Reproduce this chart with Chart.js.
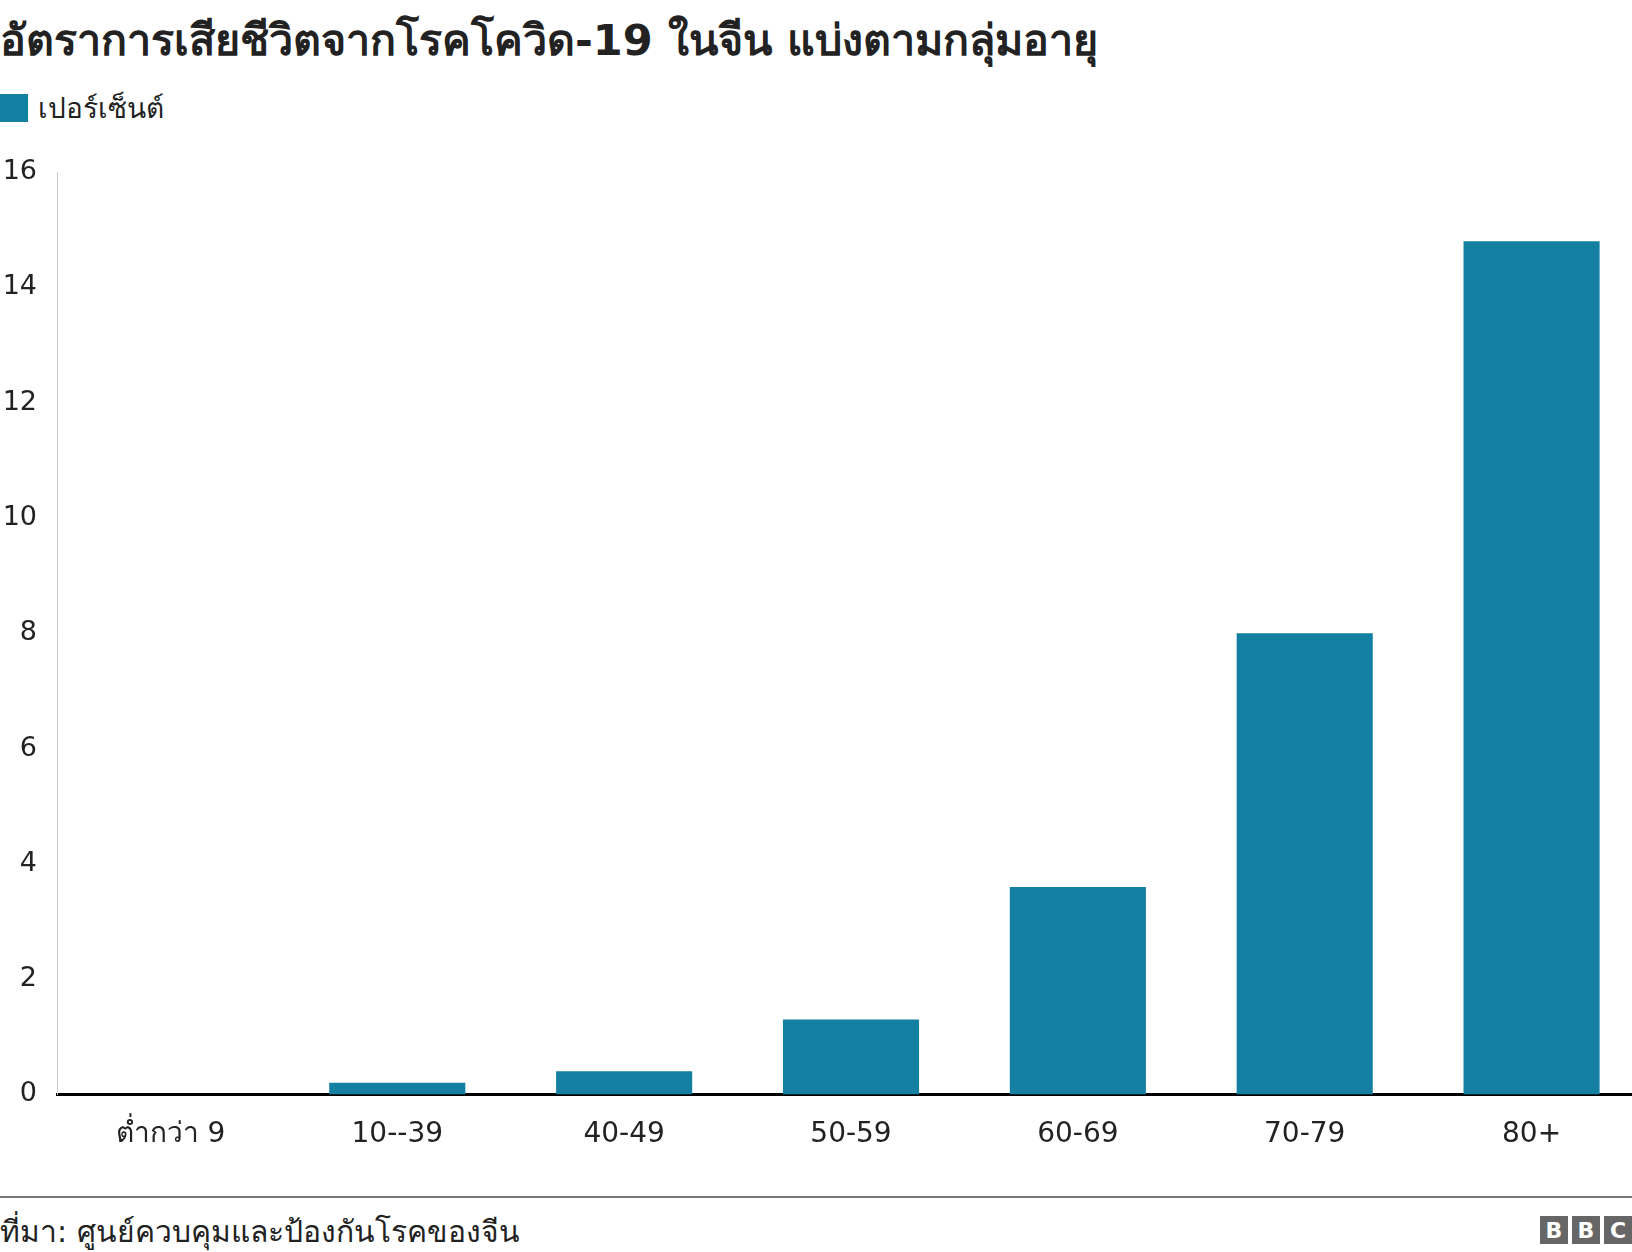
<!DOCTYPE html>
<html><head><meta charset="utf-8">
<script src="https://cdn.jsdelivr.net/npm/chart.js@4"></script>
<style>
body{margin:0;background:#fff;font-family:"DejaVu Sans","Noto Sans",sans-serif;color:#222;overflow:hidden;}
#title{position:absolute;left:0;top:6px;font-size:43px;font-weight:bold;}
#legend{position:absolute;left:0;top:86px;font-size:28px;display:flex;align-items:center;}
#legend span{display:inline-block;width:28px;height:28px;background:#1380A1;margin-right:10px;}
#wrap{position:absolute;left:0;top:136px;width:1645px;height:1040px;}
#line{position:absolute;left:0;top:1196px;width:1632px;height:2px;background:#777;}
#source{position:absolute;left:0;top:1208px;font-size:30px;}
#bbc{position:absolute;right:0;top:1216px;display:flex;gap:4px;}
#bbc b{width:28px;height:28px;background:#666;color:#fff;font:bold 22px "DejaVu Sans";display:flex;align-items:center;justify-content:center;}
</style></head><body>
<div id="title">อัตราการเสียชีวิตจากโรคโควิด-19 ในจีน แบ่งตามกลุ่มอายุ</div>
<div id="legend"><span></span>เปอร์เซ็นต์</div>
<div id="wrap"><canvas id="c"></canvas></div>
<div id="line"></div>
<div id="source">ที่มา: ศูนย์ควบคุมและป้องกันโรคของจีน</div>
<div id="bbc"><b>B</b><b>B</b><b>C</b></div>
<script>
const categories = ['ต่ำกว่า 9', '10--39', '40-49', '50-59', '60-69', '70-79', '80+'];
const percentValues = [0, 0.2, 0.4, 1.3, 3.6, 8.0, 14.8];
const yTicks = [0, 2, 4, 6, 8, 10, 12, 14, 16];

new Chart(document.getElementById('c'), {
    type: 'bar',
    data: {
        labels: categories,
        datasets: [{
            label: 'เปอร์เซ็นต์',
            data: percentValues,
            backgroundColor: '#1380A1',
            barPercentage: 0.6,
            categoryPercentage: 1
        }]
    },
    options: {
        responsive: true,
        maintainAspectRatio: false,
        animation: false,
        layout: { padding: { top: 23, right: 0 } },
        plugins: { legend: { display: false }, tooltip: { enabled: false } },
        scales: {
            x: {
                grid: { display: false, drawTicks: false },
                border: { color: '#000', width: 3 },
                ticks: { color: '#222', font: { size: 28, family: '"DejaVu Sans","Noto Sans"' }, padding: 24 }
            },
            y: {
                min: 0, max: 16,
                afterBuildTicks: axis => { axis.ticks = yTicks.map(v => ({ value: v })); },
                afterFit: axis => { axis.width = 57; },
                grid: { display: false, drawTicks: false },
                border: { color: '#ccc', width: 1 },
                ticks: { color: '#222', font: { size: 27, family: '"DejaVu Sans","Noto Sans"' }, padding: 20 }
            }
        }
    }
});
</script>
</body></html>
